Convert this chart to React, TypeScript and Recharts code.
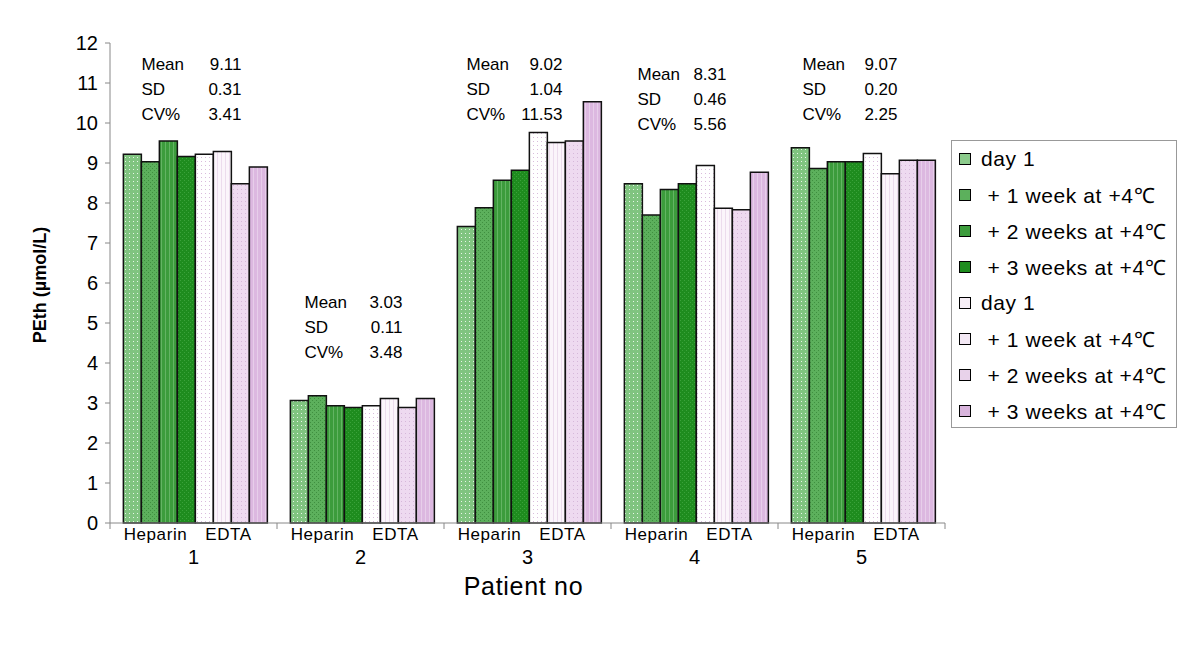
import React from "react";
import {
  BarChart,
  Bar,
  XAxis,
  YAxis,
  ReferenceDot,
  Label
} from "recharts";

// patient numbers on the x axis
const patients = ["1", "2", "3", "4", "5"];

// PEth (µmol/L), heparin tubes
const heparinDay1 = [9.22, 3.06, 7.41, 8.48, 9.38];
const heparinWeek1 = [9.03, 3.18, 7.88, 7.7, 8.86];
const heparinWeek2 = [9.55, 2.93, 8.57, 8.34, 9.03];
const heparinWeek3 = [9.16, 2.89, 8.82, 8.48, 9.03];

// PEth (µmol/L), EDTA tubes
const edtaDay1 = [9.22, 2.93, 9.76, 8.94, 9.24];
const edtaWeek1 = [9.29, 3.11, 9.51, 7.87, 8.73];
const edtaWeek2 = [8.48, 2.89, 9.55, 7.83, 9.07];
const edtaWeek3 = [8.9, 3.11, 10.53, 8.77, 9.07];

// per patient summary
const means = ["9.11", "3.03", "9.02", "8.31", "9.07"];
const sds = ["0.31", "0.11", "1.04", "0.46", "0.20"];
const cvs = ["3.41", "3.48", "11.53", "5.56", "2.25"];

const yTicks = [0, 1, 2, 3, 4, 5, 6, 7, 8, 9, 10, 11, 12];

const data = patients.map((p, i) => ({
  patient: p,
  h0: heparinDay1[i],
  h1: heparinWeek1[i],
  h2: heparinWeek2[i],
  h3: heparinWeek3[i],
  e0: edtaDay1[i],
  e1: edtaWeek1[i],
  e2: edtaWeek2[i],
  e3: edtaWeek3[i]
}));

const series = [
  { key: "h0", name: "day 1", base: "#80c480", dot: "#e8f6e8", kind: "dots", swatch: "#8ccb8c" },
  { key: "h1", name: " + 1 week at +4\u2103", base: "#5cb05c", dot: "#3f8f3f", kind: "grid", swatch: "#5cb05c" },
  { key: "h2", name: " + 2 weeks at +4\u2103", base: "#3c9c3c", dot: "#74c074", kind: "vlines", swatch: "#3c9c3c" },
  { key: "h3", name: " + 3 weeks at +4\u2103", base: "#1e8c1e", dot: "#3aa23a", kind: "grid", swatch: "#1e8c1e" },
  { key: "e0", name: "day 1", base: "#ffffff", dot: "#d9bcdc", kind: "dots", swatch: "#f6eef6" },
  { key: "e1", name: " + 1 week at +4\u2103", base: "#fbf5fb", dot: "#e6d2e8", kind: "vlines", swatch: "#f3e8f4" },
  { key: "e2", name: " + 2 weeks at +4\u2103", base: "#eedaf0", dot: "#d6b8da", kind: "dots", swatch: "#e8d2ea" },
  { key: "e3", name: " + 3 weeks at +4\u2103", base: "#dcb8e0", dot: "#ecd8ee", kind: "vlines", swatch: "#d8b4dc" }
];

// layout of the stats text blocks (anchor in y units, x offsets in px)
const statsAnchorY = [11.325, 5.375, 11.325, 11.075, 11.325];
const statsLabelDx = [-52, -56, -61, -57, -59];
const statsValueDx = [48, 42, 35, 32, 36];

const FONT = "'Liberation Sans', Arial, Helvetica, sans-serif";
const PLOT_LEFT = 102;
const PLOT_RIGHT = 937;
const HALF_BAND = (PLOT_RIGHT - PLOT_LEFT) / patients.length / 2;

const Pattern = ({ id, base, dot, kind }: any) => (
  <pattern id={id} width={4} height={4} patternUnits="userSpaceOnUse">
    <rect width={4} height={4} fill={base} />
    {kind === "dots" && <rect x={1} y={1} width={1} height={1} fill={dot} />}
    {kind === "grid" && (
      <>
        <rect x={0} y={0} width={1} height={1} fill={dot} />
        <rect x={2} y={2} width={1} height={1} fill={dot} />
      </>
    )}
    {kind === "vlines" && <rect x={1} y={0} width={1} height={4} fill={dot} opacity={0.7} />}
  </pattern>
);

const PatientTick = (props: any) => {
  const { x, y, payload, index } = props;
  return (
    <g fontFamily={FONT} fill="#000">
      <line x1={x - HALF_BAND} x2={x - HALF_BAND} y1={y} y2={y + 6} stroke="#888" />
      {index === patients.length - 1 && (
        <line x1={x + HALF_BAND} x2={x + HALF_BAND} y1={y} y2={y + 6} stroke="#888" />
      )}
      <text x={x - 38} y={y + 17} textAnchor="middle" fontSize={17} letterSpacing={0.6}>
        Heparin
      </text>
      <text x={x + 35} y={y + 17} textAnchor="middle" fontSize={17} letterSpacing={0.6}>
        EDTA
      </text>
      <text x={x} y={y + 41} textAnchor="middle" fontSize={20}>
        {payload.value}
      </text>
    </g>
  );
};

const statsShape = (i: number) => (props: any) => {
  const { cx, cy } = props;
  const rows = [
    ["Mean", means[i]],
    ["SD", sds[i]],
    ["CV%", cvs[i]]
  ];
  return (
    <g fontFamily={FONT} fontSize={17} fill="#000">
      {rows.map(([k, v], r) => (
        <g key={k}>
          <text x={cx + statsLabelDx[i]} y={cy + r * 25}>
            {k}
          </text>
          <text x={cx + statsValueDx[i]} y={cy + r * 25} textAnchor="end">
            {v}
          </text>
        </g>
      ))}
    </g>
  );
};

const LegendBox = () => (
  <div
    style={{
      position: "absolute",
      left: 943,
      top: 132,
      border: "1px solid #999",
      background: "#fff",
      fontFamily: FONT,
      fontSize: 21,
      letterSpacing: 0.6,
      color: "#000",
      boxSizing: "border-box",
      width: 226,
      height: 288
    }}
  >
    {series.map((s) => (
      <div
        key={s.key}
        style={{ height: 36, display: "flex", alignItems: "center", paddingLeft: 7 }}
      >
        <span
          style={{
            width: 10,
            height: 10,
            background: s.swatch,
            border: "1px solid #000",
            marginRight: 10,
            flex: "none"
          }}
        />
        <span style={{ whiteSpace: "pre" }}>{s.name}</span>
      </div>
    ))}
  </div>
);

export default function App() {
  return (
    <div style={{ width: 1184, height: 620, position: "relative", background: "#fff" }}>
      <BarChart
        width={1184}
        height={620}
        data={data}
        margin={{ top: 35, right: 247, left: 22, bottom: 25 }}
        barCategoryGap="8%"
        barGap={0}
      >
        <defs>
          {series.map((s) => (
            <Pattern key={s.key} id={`pat-${s.key}`} base={s.base} dot={s.dot} kind={s.kind} />
          ))}
        </defs>
        <XAxis
          dataKey="patient"
          height={80}
          interval={0}
          tickLine={false}
          tickSize={0}
          tickMargin={0}
          axisLine={{ stroke: "#888" }}
          tick={<PatientTick />}
        >
          <Label
            content={(p: any) => {
              const vb = p.viewBox;
              return (
                <text
                  x={vb.x + vb.width / 2 - 4}
                  y={vb.y + 72}
                  textAnchor="middle"
                  fontFamily={FONT}
                  fontSize={25}
                  letterSpacing={0.7}
                  fill="#000"
                >
                  Patient no
                </text>
              );
            }}
          />
        </XAxis>
        <YAxis
          width={80}
          domain={[0, 12]}
          ticks={yTicks}
          interval={0}
          tickSize={5}
          tickMargin={7}
          axisLine={{ stroke: "#888" }}
          tickLine={{ stroke: "#888" }}
          tick={{ fill: "#000", fontSize: 20, fontFamily: FONT }}
        >
          <Label
            content={(p: any) => {
              const vb = p.viewBox;
              const cx = vb.x + 16;
              const cy = vb.y + vb.height / 2 + 2;
              return (
                <text
                  x={cx}
                  y={cy}
                  transform={`rotate(-90 ${cx} ${cy})`}
                  textAnchor="middle"
                  fontFamily={FONT}
                  fontSize={18}
                  fontWeight="bold"
                  fill="#000"
                >
                  PEth (µmol/L)
                </text>
              );
            }}
          />
        </YAxis>
        {series.map((s) => (
          <Bar
            key={s.key}
            dataKey={s.key}
            name={s.name}
            fill={`url(#pat-${s.key})`}
            stroke="#111"
            strokeWidth={1.5}
            isAnimationActive={false}
          />
        ))}
        {patients.map((p, i) => (
          <ReferenceDot
            key={p}
            x={p}
            y={statsAnchorY[i]}
            r={0}
            shape={statsShape(i)}
          />
        ))}
      </BarChart>
      <LegendBox />
    </div>
  );
}
